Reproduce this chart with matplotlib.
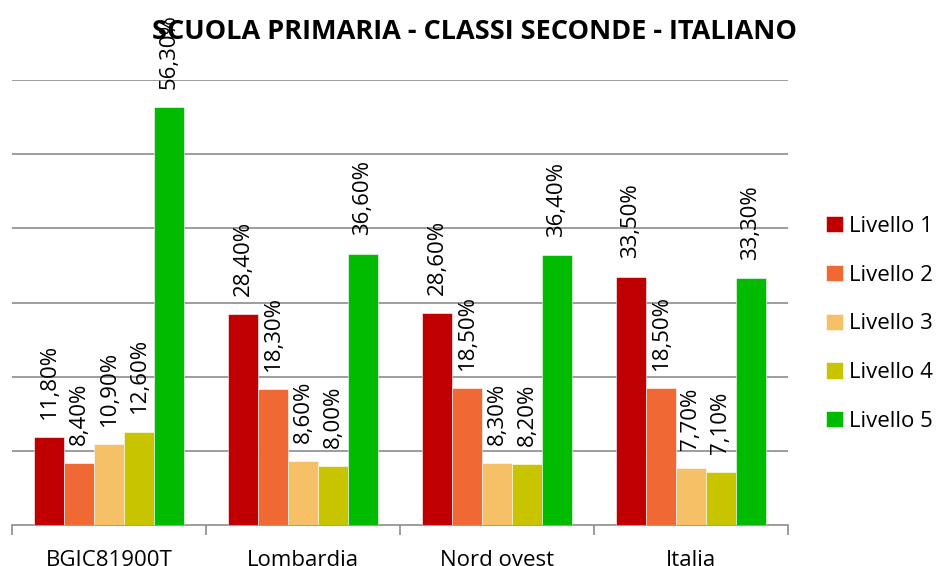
import numpy as np
import matplotlib
matplotlib.use("Agg")
import matplotlib.pyplot as plt

plt.rcParams["font.family"] = ["Open Sans", "DejaVu Sans"]

categories = ["BGIC81900T", "Lombardia", "Nord ovest", "Italia"]
series = ["Livello 1", "Livello 2", "Livello 3", "Livello 4", "Livello 5"]
livello_1 = [11.8, 28.4, 28.6, 33.5]
livello_2 = [8.4, 18.3, 18.5, 18.5]
livello_3 = [10.9, 8.6, 8.3, 7.7]
livello_4 = [12.6, 8.0, 8.2, 7.1]
livello_5 = [56.3, 36.6, 36.4, 33.3]
values = [livello_1, livello_2, livello_3, livello_4, livello_5]
colors = ["#C00000", "#F06935", "#F6C066", "#C8C400", "#00BB00"]

fig = plt.figure(figsize=(9.41, 5.66), dpi=100)
ax = fig.add_axes([12 / 941, 41 / 566, 776 / 941, 445 / 566])

x = np.arange(len(categories))
w = 30 / 194
for i, (name, vals, c) in enumerate(zip(series, values, colors)):
    pos = x + (i - 2) * w
    ax.bar(pos, vals, width=w, color=c, label=name,
           edgecolor="white", linewidth=0.4, zorder=3)
    for xp, v in zip(pos, vals):
        ax.annotate(f"{v:.2f}%".replace(".", ","), (xp, v),
                    xytext=(0, 13), textcoords="offset points",
                    rotation=90, ha="center", va="bottom", fontsize=16,
                    annotation_clip=False, zorder=5)

ax.set_xlim(-0.5, len(categories) - 0.5)
ax.set_ylim(0, 60)
ax.set_yticks(np.arange(10, 61, 10))
ax.yaxis.grid(True, color="#8c8c8c", linewidth=1.2, zorder=0)
ax.tick_params(axis="y", left=False, labelleft=False)
ax.set_xticks(x)
ax.set_xticklabels(categories, fontsize=16)
ax.set_xticks(np.arange(-0.5, len(categories), 1), minor=True)
ax.tick_params(axis="x", which="major", length=0, pad=18)
ax.tick_params(axis="x", which="minor", length=7, color="#8c8c8c", width=1.2)
for s in ["top", "right", "left"]:
    ax.spines[s].set_visible(False)
ax.spines["bottom"].set_color("#8c8c8c")
ax.spines["bottom"].set_linewidth(1.2)

fig.text(474 / 941, 1 - 32 / 566, "SCUOLA PRIMARIA - CLASSI SECONDE - ITALIANO",
         ha="center", va="center", fontsize=19.5, fontweight="bold")

fig.legend(loc="center left", bbox_to_anchor=(806 / 941, 1 - 324 / 566),
           frameon=False, fontsize=16, handlelength=0.75, handleheight=0.75,
           handletextpad=0.3, labelspacing=1.25)

fig.savefig("out.png", dpi=100)
